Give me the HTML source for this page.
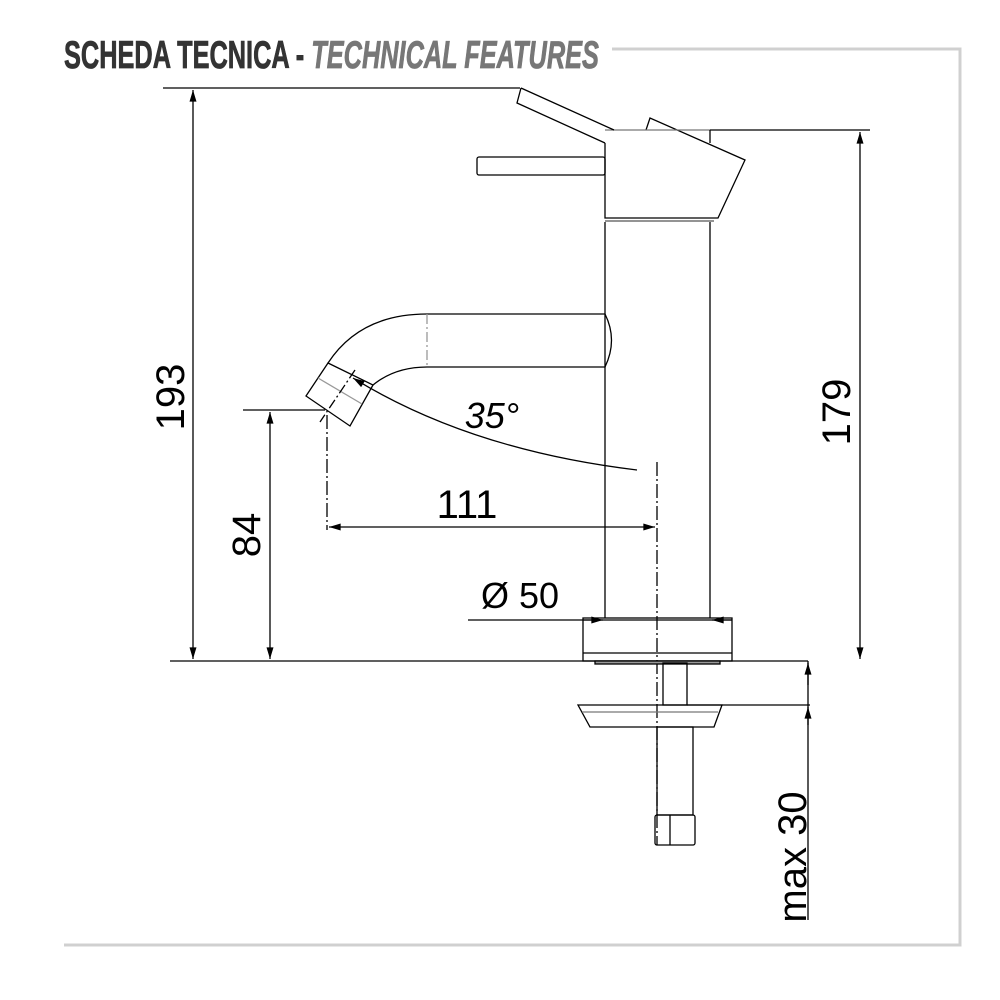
<!DOCTYPE html>
<html><head><meta charset="utf-8"><style>html,body{margin:0;padding:0;background:#fff}svg{display:block}</style></head>
<body>
<svg width="1000" height="1000" viewBox="0 0 1000 1000" xmlns="http://www.w3.org/2000/svg">
<defs>
<marker id="a" viewBox="0 0 10 6" refX="10" refY="3" markerWidth="18" markerHeight="7" markerUnits="userSpaceOnUse" orient="auto-start-reverse"><path d="M0,0 L10,3 L0,6z" fill="#000"/></marker>
</defs>
<!-- frame -->
<polyline points="612,49 960,49 960,945 64,945" fill="none" stroke="#d0d0d0" stroke-width="3"/>
<text x="64" y="68" font-family="Liberation Sans, sans-serif" font-weight="bold" font-size="39" fill="#333" stroke="#333" stroke-width="0.8" transform="translate(64 0) scale(0.65 1) translate(-64 0)">SCHEDA TECNICA - <tspan fill="#777" stroke="#777" font-style="italic">TECHNICAL FEATURES</tspan></text>

<g fill="none" stroke="#000" stroke-width="1.3">
<line x1="170" y1="661" x2="808" y2="661"/>
<line x1="163" y1="88" x2="520" y2="88"/>
<line x1="193" y1="90" x2="193" y2="659" marker-start="url(#a)" marker-end="url(#a)"/>
<line x1="710" y1="130" x2="870" y2="130"/>
<line x1="860" y1="132" x2="860" y2="659" marker-start="url(#a)" marker-end="url(#a)"/>
<line x1="243" y1="410" x2="325" y2="410"/>
<line x1="270" y1="412" x2="270" y2="659" marker-start="url(#a)" marker-end="url(#a)"/>
<line x1="327" y1="415" x2="327" y2="530" stroke-dasharray="14,3,2,3"/>
<line x1="329" y1="527" x2="655" y2="527" marker-start="url(#a)" marker-end="url(#a)"/>
<line x1="657" y1="462" x2="657" y2="845" stroke-dasharray="14,3,2,3"/>
<path d="M353,378 Q470,450 637,470" marker-start="url(#a)"/>
<path d="M328,363 Q360,314 427,314 L605,314 Q618,340 605,367 L427,367 Q395,367 373,385"/>
<polygon points="306,396 328,363 373,385 350,426"/>
<line x1="427" y1="314" x2="427" y2="367" stroke="#999" stroke-dasharray="10,3,2,3"/>
<line x1="318" y1="378" x2="362" y2="404" stroke="#999"/>
<line x1="355" y1="370" x2="320" y2="422" stroke-dasharray="10,3,2,3"/>
<line x1="605" y1="222" x2="605" y2="618"/>
<line x1="710" y1="222" x2="710" y2="618"/>
<path d="M605,143 L605,218 L718,218 L745,160 L650,118 L646,130"/>
<line x1="605" y1="221" x2="714" y2="221" stroke="#555"/>
<line x1="605" y1="130" x2="710" y2="130" stroke="#777"/>
<line x1="710" y1="130" x2="710" y2="143"/>
<path d="M521,88 L614,130 M605,143 L517,103 L521,88"/>
<rect x="477" y="157" width="128" height="18" rx="2"/>
<rect x="583" y="618" width="149" height="43"/>
<line x1="583" y1="653" x2="732" y2="653"/>
<rect x="595" y="661" width="125" height="3" fill="#999"/>
<line x1="468" y1="620" x2="732" y2="620"/>
<line x1="583" y1="620" x2="603" y2="620" marker-end="url(#a)" />
<line x1="732" y1="620" x2="712" y2="620" marker-end="url(#a)"/>
<rect x="663" y="663" width="24" height="42"/>
<path d="M578,705 L722,705 L714,727 L590,727 Z"/>
<line x1="582" y1="712" x2="718" y2="712" stroke="#777"/>
<rect x="657" y="727" width="36" height="88"/>
<rect x="655" y="815" width="40" height="30" rx="2"/>
<line x1="670" y1="815" x2="670" y2="845"/>
<line x1="687" y1="705" x2="810" y2="705"/>
<line x1="808" y1="661" x2="808" y2="920"/>
<line x1="808" y1="685" x2="808" y2="663" marker-end="url(#a)"/>
<line x1="808" y1="725" x2="808" y2="707" marker-end="url(#a)"/>
</g>
<g font-family="Liberation Sans, sans-serif" font-size="40" fill="#000">
<text transform="translate(184 397) rotate(-90)" text-anchor="middle">193</text>
<text transform="translate(850 412) rotate(-90)" text-anchor="middle">179</text>
<text transform="translate(260 535) rotate(-90)" text-anchor="middle">84</text>
<text transform="translate(806 857) rotate(-90)" text-anchor="middle">max 30</text>
<text x="467" y="518" text-anchor="middle">111</text>
<text x="520" y="608" text-anchor="middle" font-size="36">Ø 50</text>
<text x="492" y="428" text-anchor="middle" font-size="36" font-style="italic">35°</text>
</g>
</svg>
</body></html>
